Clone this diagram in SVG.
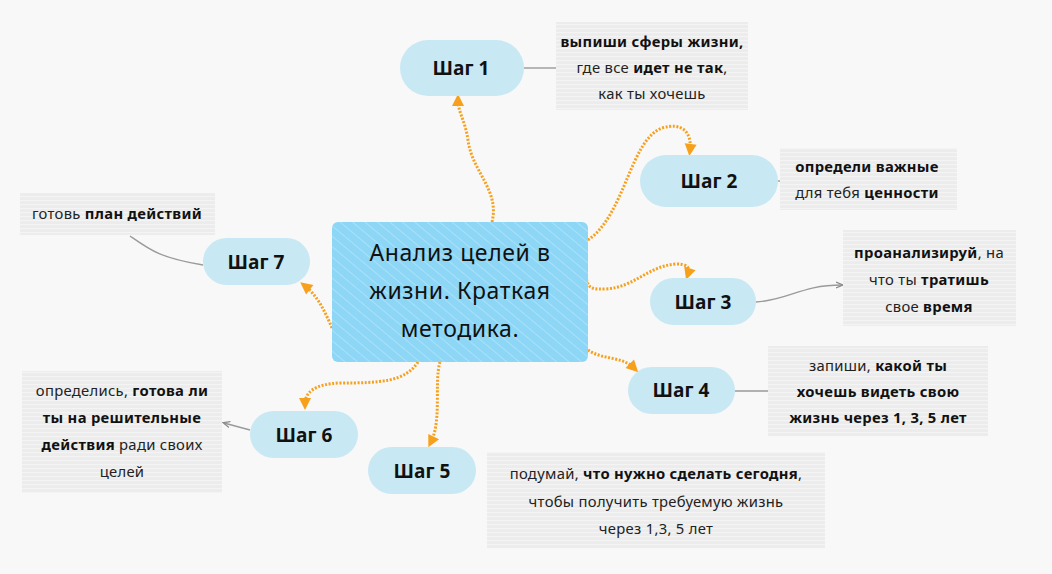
<svg xmlns="http://www.w3.org/2000/svg" width="1052" height="574" viewBox="0 0 1052 574">
<defs>
<style>
.bg{fill:#f8f8f8}
.step rect{fill:#c8e8f4}
.step text{font-family:"Open Sans","Noto Sans",sans-serif;font-weight:bold;font-size:19px;fill:#111;text-anchor:middle}
.note rect{fill:url(#lines)}
.note text{font-family:"Noto Sans","DejaVu Sans",sans-serif;font-size:14.8px;fill:#222;text-anchor:middle;letter-spacing:0.3px}
.note .b{font-weight:bold;fill:#111}
.orange{fill:none;stroke:#f7a01c;stroke-width:3;stroke-dasharray:2 1.6}
.grey{fill:none;stroke:#9a9a9a;stroke-width:1.4}
.center text{font-family:"Noto Sans","DejaVu Sans",sans-serif;font-size:23px;fill:#111;text-anchor:middle;letter-spacing:0.6px}
</style>
<pattern id="lines" width="20" height="4" patternUnits="userSpaceOnUse">
<rect width="20" height="4" fill="#ececec"/>
<rect y="0" width="20" height="1.2" fill="#f4f4f4"/>
</pattern>
<pattern id="hatch" width="8" height="8" patternUnits="userSpaceOnUse" patternTransform="rotate(-50)">
<rect width="8" height="8" fill="#8dd6f6"/>
<rect width="1" height="8" fill="#a9e1f9"/>
</pattern>
<marker id="oa" markerWidth="14" markerHeight="14" refX="7" refY="7" orient="auto" markerUnits="userSpaceOnUse">
<path d="M1,1 L13,7 L1,13 Z" fill="#f7a01c"/>
</marker>
<marker id="ga" markerWidth="8" markerHeight="8" refX="6" refY="4" orient="auto" markerUnits="userSpaceOnUse">
<path d="M0,1 L7,4 L0,7" fill="none" stroke="#888" stroke-width="1.2"/>
</marker>
</defs>
<rect class="bg" width="1052" height="574"/>

<g id="connectors">
<path class="orange" marker-end="url(#oa)" d="M492,222 C500,190 472,172 468,140 C465,120 458,112 458,100"/>
<path class="orange" marker-end="url(#oa)" d="M588,240 C625,215 630,140 662,128 C682,122 692,132 690,150"/>
<path class="orange" marker-end="url(#oa)" d="M585,272 C588,285 586,290 606,289 C635,287 648,266 676,264 C688,264 690,268 688,274"/>
<path class="orange" marker-end="url(#oa)" d="M588,350 C602,360 622,356 634,368"/>
<path class="orange" marker-end="url(#oa)" d="M440,362 C434,382 442,420 431,442"/>
<path class="orange" marker-end="url(#oa)" d="M418,362 C405,382 380,383 340,383 C315,384 305,392 305,404"/>
<path class="orange" marker-end="url(#oa)" d="M332,328 C325,312 318,296 305,286"/>
<path class="grey" d="M524,68 L556,68"/>
<path class="grey" d="M778,181 L781,181"/>
<path class="grey" marker-end="url(#ga)" d="M756,302 C790,300 800,285 842,285"/>
<path class="grey" d="M735,391 L768,391"/>
<path class="grey" marker-end="url(#ga)" d="M250,430 L224,423"/>
<path class="grey" d="M203,265 C160,258 150,250 130,236"/>
</g>

<g id="center" class="center">
<rect x="332" y="222" width="256" height="140" rx="6" fill="url(#hatch)"/>
<text x="460" y="261">Анализ целей в</text>
<text x="460" y="299">жизни. Краткая</text>
<text x="460" y="337">методика.</text>
</g>

<g id="step1" class="step"><rect x="400" y="40" width="124" height="56" rx="28"/><text x="461" y="75">Шаг 1</text></g>
<g id="step2" class="step"><rect x="640" y="155" width="138" height="52" rx="26"/><text x="709" y="188">Шаг 2</text></g>
<g id="step3" class="step"><rect x="650" y="278" width="106" height="47" rx="23.5"/><text x="703" y="309">Шаг 3</text></g>
<g id="step4" class="step"><rect x="628" y="367" width="107" height="47" rx="23.5"/><text x="681" y="397">Шаг 4</text></g>
<g id="step5" class="step"><rect x="368" y="447" width="108" height="47" rx="23.5"/><text x="422" y="478">Шаг 5</text></g>
<g id="step6" class="step"><rect x="250" y="411" width="108" height="47" rx="23.5"/><text x="304" y="442">Шаг 6</text></g>
<g id="step7" class="step"><rect x="203" y="238" width="107" height="47" rx="23.5"/><text x="256" y="269">Шаг 7</text></g>

<g id="note1" class="note"><rect x="556" y="22" width="192" height="88"/>
<text x="652" y="47"><tspan class="b">выпиши сферы жизни,</tspan></text>
<text x="652" y="73">где все <tspan class="b">идет не так</tspan>,</text>
<text x="652" y="99">как ты хочешь</text>
</g>
<g id="note2" class="note"><rect x="780" y="148" width="177" height="62"/>
<text x="867" y="172"><tspan class="b">определи важные</tspan></text>
<text x="867" y="198">для тебя <tspan class="b">ценности</tspan></text>
</g>
<g id="note3" class="note"><rect x="843" y="230" width="173" height="96"/>
<text x="929" y="258"><tspan class="b">проанализируй</tspan>, на</text>
<text x="929" y="285">что ты <tspan class="b">тратишь</tspan></text>
<text x="929" y="312">свое <tspan class="b">время</tspan></text>
</g>
<g id="note4" class="note"><rect x="768" y="346" width="220" height="90"/>
<text x="878" y="371">запиши, <tspan class="b">какой ты</tspan></text>
<text x="878" y="397"><tspan class="b">хочешь видеть свою</tspan></text>
<text x="878" y="423"><tspan class="b">жизнь через 1, 3, 5 лет</tspan></text>
</g>
<g id="note5" class="note"><rect x="487" y="452" width="338" height="96"/>
<text x="656" y="479">подумай, <tspan class="b">что нужно сделать сегодня</tspan>,</text>
<text x="656" y="507">чтобы получить требуемую жизнь</text>
<text x="656" y="534">через 1,3, 5 лет</text>
</g>
<g id="note6" class="note"><rect x="22" y="371" width="200" height="122"/>
<text x="122" y="396">определись, <tspan class="b">готова ли</tspan></text>
<text x="122" y="423"><tspan class="b">ты на решительные</tspan></text>
<text x="122" y="450"><tspan class="b">действия</tspan> ради своих</text>
<text x="122" y="477">целей</text>
</g>
<g id="note7" class="note"><rect x="20" y="193" width="195" height="42"/>
<text x="117" y="219">готовь <tspan class="b">план действий</tspan></text>
</g>
</svg>
